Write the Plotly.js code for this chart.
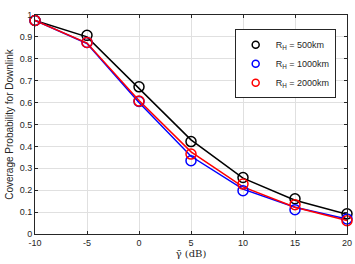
<!DOCTYPE html>
<html>
<head>
<meta charset="utf-8">
<script src="https://cdn.plot.ly/plotly-3.0.1.min.js"></script>
<style>html,body{margin:0;padding:0;background:#fff;}#chart{width:355px;height:264px;}</style>
</head>
<body>
<div id="chart"></div>
<script>
var gammaDb = [-10, -5, 0, 5, 10, 15, 20];
var names = ['R<sub>H</sub> = 500km', 'R<sub>H</sub> = 1000km', 'R<sub>H</sub> = 2000km'];
var colors = ['#000000', '#0000ff', '#ff0000'];
// analytical curves (lines)
var line500 = [0.975, 0.900, 0.665, 0.430, 0.255, 0.154, 0.090];
var line1000 = [0.975, 0.870, 0.600, 0.355, 0.205, 0.122, 0.068];
var line2000 = [0.975, 0.872, 0.610, 0.375, 0.215, 0.122, 0.062];
// simulation points (markers)
var sim500 = [0.975, 0.907, 0.672, 0.422, 0.258, 0.161, 0.092];
var sim1000 = [0.975, 0.875, 0.605, 0.335, 0.198, 0.111, 0.069];
var sim2000 = [0.975, 0.875, 0.607, 0.365, 0.228, 0.134, 0.061];
var yTicks = [0, 0.1, 0.2, 0.3, 0.4, 0.5, 0.6, 0.7, 0.8, 0.9, 1];
var yTickText = ['0', '0.1', '0.2', '0.3', '0.4', '0.5', '0.6', '0.7', '0.8', '0.9', '1'];
var xTicks = [-10, -5, 0, 5, 10, 15, 20];
var xTickText = ['-10', '-5', '0', '5', '10', '15', '20'];

var lines = [line500, line1000, line2000];
var sims = [sim500, sim1000, sim2000];
var traces = [];
for (var i = 0; i < 3; i++) {
  traces.push({x: gammaDb, y: lines[i], mode: 'lines', line: {color: colors[i], width: 1.5}, showlegend: false, hoverinfo: 'skip'});
}
for (var i = 0; i < 3; i++) {
  traces.push({x: gammaDb, y: sims[i], mode: 'markers', name: names[i], showlegend: false, cliponaxis: false,
    marker: {symbol: 'circle-open', size: 10, color: colors[i], line: {width: 1.5, color: colors[i]}}});
}
// legend entries (same series, drawn with the smaller legend glyph)
for (var i = 0; i < 3; i++) {
  traces.push({x: [null], y: [null], mode: 'markers', name: names[i],
    marker: {symbol: 'circle-open', size: 7, color: colors[i], line: {width: 1.5, color: colors[i]}}});
}
var axisCommon = {
  showline: true, linecolor: '#262626', linewidth: 1, mirror: 'ticks',
  ticks: 'inside', ticklen: 3, tickcolor: '#262626', tickwidth: 1,
  showgrid: true, gridcolor: '#e0e0e0', gridwidth: 1, zeroline: false,
  tickfont: {family: 'Liberation Sans, Arial, sans-serif', size: 9, color: '#262626'}
};
var layout = {
  width: 355, height: 264,
  margin: {l: 35, r: 8, t: 15, b: 29.5},
  paper_bgcolor: '#ffffff', plot_bgcolor: '#ffffff',
  showlegend: true,
  legend: {x: 0.64, y: 0.935, xanchor: 'left', yanchor: 'top', bgcolor: '#ffffff',
    bordercolor: '#262626', borderwidth: 1, tracegroupgap: 0, itemwidth: 30,
    font: {family: 'Liberation Sans, Arial, sans-serif', size: 9, color: '#262626'}},
  xaxis: Object.assign({}, axisCommon, {range: [-10, 20], tickvals: xTicks, ticktext: xTickText,
    title: {text: 'γ̄ (dB)', standoff: 2, font: {family: 'DejaVu Serif, Liberation Serif, serif', size: 10, color: '#262626'}}}),
  yaxis: Object.assign({}, axisCommon, {range: [0, 1], tickvals: yTicks, ticktext: yTickText,
    title: {text: 'Coverage Probability for Downlink', standoff: 4, font: {family: 'Liberation Sans, Arial, sans-serif', size: 10, color: '#262626'}}})
};
Plotly.newPlot('chart', traces, layout, {displayModeBar: false, staticPlot: true});
</script>
</body>
</html>
